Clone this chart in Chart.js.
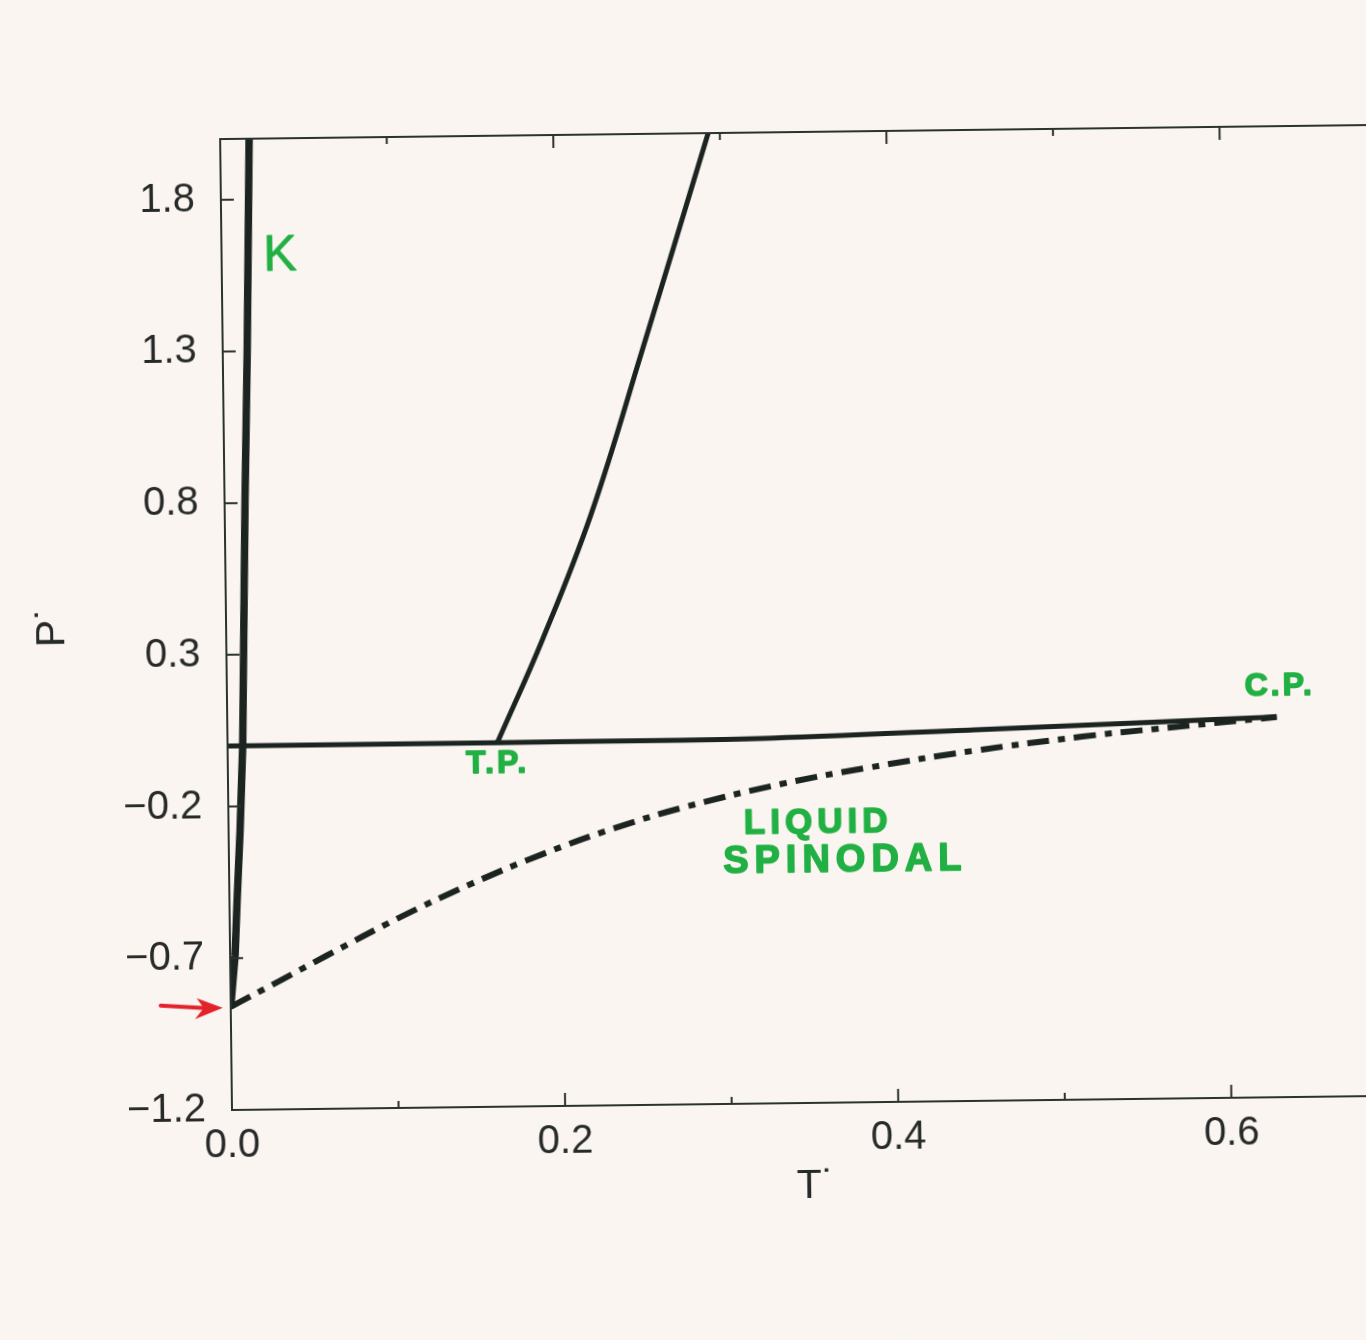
<!DOCTYPE html>
<html>
<head>
<meta charset="utf-8">
<script src="https://cdn.jsdelivr.net/npm/chart.js@4.4.0/dist/chart.umd.min.js"></script>
<style>
  html, body { margin: 0; padding: 0; background: #fbf5f1; overflow: hidden; }
  #wrap { width: 1366px; height: 1340px; overflow: hidden; position: relative; }
  /* the scanned figure sits slightly tilted on the page */
  #phase { position: absolute; left: 0; top: 0; transform: rotate(-0.7deg); transform-origin: 232px 1110px; }
</style>
</head>
<body>
<div id="wrap"><canvas id="phase" width="1400" height="1340"></canvas></div>
<script>
const INK = '#1b2420';
const FRAME = '#2b332e';
const GREEN = '#21b043';
const RED = '#e3232c';
const PAPER = '#fbf5f1';
const FONT = '"Liberation Sans", Arial, Helvetica, sans-serif';

// Axis ticks
const xTicks = [0.0, 0.2, 0.4, 0.6];
const xMinorTicks = [0.1, 0.3, 0.5];
const yTicks = [-1.2, -0.7, -0.2, 0.3, 0.8, 1.3, 1.8];

// K line (steep, near T* = 0)
const kLineT = [0.0, 0.003, 0.0047, 0.0069, 0.0091, 0.0123, 0.0147, 0.0174];
const kLineP = [-0.86, -0.69, -0.50, -0.28, 0.0, 0.81, 1.30, 2.0];

// Solid line rising from the triple point
const meltingT = [0.162, 0.190, 0.220, 0.252, 0.293];
const meltingP = [0.0, 0.34, 0.75, 1.29, 2.0];

// Coexistence line from T* = 0 through T.P. to C.P.
const coexT = [0.0, 0.162, 0.32, 0.448, 0.556, 0.63];
const coexP = [0.0, 0.0, 0.003, 0.023, 0.041, 0.053];

// Liquid spinodal (dash-dot)
const spinodalT = [0.0, 0.030, 0.058, 0.101, 0.145, 0.188, 0.231, 0.274, 0.332, 0.384, 0.448, 0.513, 0.556, 0.63];
const spinodalP = [-0.86, -0.775, -0.695, -0.575, -0.465, -0.37, -0.288, -0.22, -0.148, -0.098, -0.046, -0.004, 0.018, 0.053];

// Hand-written notes, anchored in data units
const noteText = ['K', 'T.P.', 'C.P.', 'LIQUID', 'SPINODAL'];
const noteT = [0.025, 0.162, 0.632, 0.354, 0.370];
const noteP = [1.61, -0.07, 0.155, -0.278, -0.404];

// Red arrow points at the end of the spinodal
const arrowT = 0.0;
const arrowP = -0.86;

function toPoints(ts, ps) {
  return ts.map((t, i) => ({ x: t, y: ps[i] }));
}

function tickLabel(value) {
  return value.toFixed(1).replace('-', '\u2212');
}

const paperPlugin = {
  id: 'paper',
  beforeDraw(chart) {
    const { ctx, width, height } = chart;
    ctx.save();
    ctx.fillStyle = PAPER;
    ctx.fillRect(0, 0, width, height);
    ctx.restore();
  },
};

// Box frame with inward tick marks, like the original plot
const framePlugin = {
  id: 'frame',
  afterDatasetsDraw(chart) {
    const { ctx, chartArea: area, scales: { x, y } } = chart;
    ctx.save();
    ctx.strokeStyle = FRAME;
    ctx.lineWidth = 2;
    ctx.strokeRect(area.left, area.top, area.right - area.left, area.bottom - area.top);

    ctx.beginPath();
    yTicks.forEach((v) => {
      const py = y.getPixelForValue(v);
      ctx.moveTo(area.left, py);
      ctx.lineTo(area.left + 13, py);
    });
    xTicks.forEach((v) => {
      const px = x.getPixelForValue(v);
      ctx.moveTo(px, area.bottom);
      ctx.lineTo(px, area.bottom - 13);
      ctx.moveTo(px, area.top);
      ctx.lineTo(px, area.top + 13);
    });
    xMinorTicks.forEach((v) => {
      const px = x.getPixelForValue(v);
      ctx.moveTo(px, area.bottom);
      ctx.lineTo(px, area.bottom - 7);
      ctx.moveTo(px, area.top);
      ctx.lineTo(px, area.top + 7);
    });
    ctx.stroke();
    ctx.restore();
  },
};

const notesPlugin = {
  id: 'notes',
  afterDraw(chart) {
    const { ctx, scales: { x, y } } = chart;
    ctx.save();
    ctx.fillStyle = GREEN;
    ctx.strokeStyle = GREEN;
    ctx.lineJoin = 'round';
    ctx.textBaseline = 'middle';

    noteText.forEach((text, i) => {
      const px = x.getPixelForValue(noteT[i]);
      const py = y.getPixelForValue(noteP[i]);
      let outline = 1.6;
      if (text === 'K') {
        ctx.font = `50px ${FONT}`;
        ctx.letterSpacing = '0px';
        ctx.textAlign = 'left';
        outline = 0.8;
      } else if (text === 'LIQUID') {
        ctx.font = `bold 35px ${FONT}`;
        ctx.letterSpacing = '5px';
        ctx.textAlign = 'center';
      } else if (text === 'SPINODAL') {
        ctx.font = `bold 38px ${FONT}`;
        ctx.letterSpacing = '6px';
        ctx.textAlign = 'center';
      } else {
        ctx.font = `bold 32px ${FONT}`;
        ctx.letterSpacing = '3px';
        ctx.textAlign = 'center';
      }
      ctx.lineWidth = outline;
      ctx.fillText(text, px, py);
      ctx.strokeText(text, px, py);
    });

    // red arrow
    const tipX = x.getPixelForValue(arrowT) - 8;
    const tipY = y.getPixelForValue(arrowP) + 1;
    ctx.strokeStyle = RED;
    ctx.fillStyle = RED;
    ctx.lineWidth = 4;
    ctx.lineCap = 'round';
    ctx.beginPath();
    ctx.moveTo(tipX - 62, tipY - 3);
    ctx.lineTo(tipX - 18, tipY);
    ctx.stroke();
    ctx.beginPath();
    ctx.moveTo(tipX, tipY);
    ctx.lineTo(tipX - 26, tipY - 10);
    ctx.lineTo(tipX - 19, tipY);
    ctx.lineTo(tipX - 28, tipY + 11);
    ctx.closePath();
    ctx.fill();
    ctx.restore();
  },
};

new Chart(document.getElementById('phase'), {
  type: 'scatter',
  data: {
    datasets: [
      {
        data: toPoints(kLineT, kLineP),
        showLine: true,
        borderColor: INK,
        borderWidth: 7.5,
        pointRadius: 0,
        tension: 0,
      },
      {
        data: toPoints(meltingT, meltingP),
        showLine: true,
        borderColor: INK,
        borderWidth: 5,
        pointRadius: 0,
        tension: 0.4,
      },
      {
        data: toPoints(coexT, coexP),
        showLine: true,
        borderColor: INK,
        borderWidth: 5,
        pointRadius: 0,
        tension: 0.3,
      },
      {
        data: toPoints(spinodalT, spinodalP),
        showLine: true,
        borderColor: INK,
        borderWidth: 6,
        borderDash: [22, 9, 7, 9],
        pointRadius: 0,
        tension: 0.4,
      },
    ],
  },
  options: {
    responsive: false,
    animation: false,
    events: [],
    layout: { padding: { left: 0, top: 139, right: 2, bottom: 0 } },
    plugins: {
      legend: { display: false },
      tooltip: { enabled: false },
    },
    scales: {
      x: {
        type: 'linear',
        min: 0,
        max: 0.7,
        afterBuildTicks: (scale) => { scale.ticks = xTicks.map((value) => ({ value })); },
        afterFit: (scale) => { scale.height = 230; },
        grid: { display: false, drawTicks: false },
        border: { display: false },
        ticks: {
          color: '#262a28',
          font: { family: FONT, size: 40 },
          padding: 12,
          maxRotation: 0,
          autoSkip: false,
          callback: (value) => tickLabel(value),
        },
        title: {
          display: true,
          text: 'T\u02D9',
          color: '#262a28',
          font: { family: FONT, size: 41 },
          padding: { top: 0, bottom: 122 },
        },
      },
      y: {
        type: 'linear',
        min: -1.2,
        max: 2.0,
        afterBuildTicks: (scale) => { scale.ticks = yTicks.map((value) => ({ value })); },
        afterFit: (scale) => { scale.width = 232; },
        grid: { display: false, drawTicks: false },
        border: { display: false },
        ticks: {
          color: '#262a28',
          font: { family: FONT, size: 40 },
          padding: 26,
          autoSkip: false,
          callback: (value) => tickLabel(value),
        },
        title: {
          display: true,
          text: 'P\u02D9',
          color: '#262a28',
          font: { family: FONT, size: 41 },
          padding: { top: 34, bottom: 0 },
        },
      },
    },
  },
  plugins: [paperPlugin, framePlugin, notesPlugin],
});
</script>
</body>
</html>
